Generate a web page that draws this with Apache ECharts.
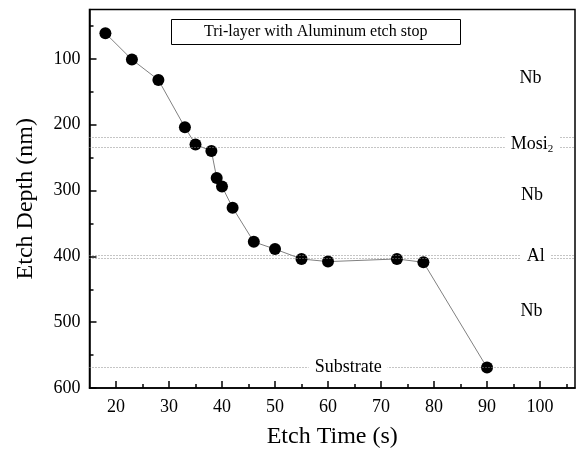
<!DOCTYPE html>
<html>
<head>
<meta charset="utf-8">
<script src="https://cdn.jsdelivr.net/npm/echarts@6/dist/echarts.min.js"></script>
<style>
  html, body { margin: 0; padding: 0; background: #fff; }
  #container { width: 582px; height: 459px; }
</style>
</head>
<body>
<div id="container"></div>
<script>
var times = [18, 23, 28, 33, 35, 38, 39, 40, 42, 46, 50, 55, 60, 73, 78, 90];
var depths = [61, 101, 132, 204, 230, 240, 281, 294, 326, 378, 389, 404, 408, 404, 409, 569];

var xMajor = [20, 30, 40, 50, 60, 70, 80, 90, 100];
var xMinor = [25, 35, 45, 55, 65, 75, 85, 95, 105];
var yMajor = [100, 200, 300, 400, 500, 600];
var yMinor = [50, 150, 250, 350, 450, 550];

// layer boundaries (nm)
var layerLines = [219, 235, 399, 403, 568];
// layer names and where they sit (time, depth)
var layerNames = ['Nb', 'Mosi', 'Nb', 'Al', 'Nb', 'Substrate'];
var layerX = [98.2, 98.5, 98.5, 99.2, 98.4, 63.8];
var layerY = [129, 231, 307, 400, 484, 568];

var FONT = 'Liberation Serif';

var dom = document.getElementById('container');
var myChart = echarts.init(dom);

var pts = [];
for (var i = 0; i < times.length; i++) {
    pts.push([times[i], depths[i]]);
}
var labelPts = [];
for (var j = 0; j < layerNames.length; j++) {
    labelPts.push({ name: layerNames[j], value: [layerX[j], layerY[j]] });
}

var option = {
    animation: false,
    title: {
        text: 'Tri-layer with Aluminum etch stop',
        left: 171,
        top: 19,
        padding: [5, 33, 5, 33],
        borderColor: '#000',
        borderWidth: 1,
        textStyle: { fontFamily: FONT, fontSize: 16, fontWeight: 'normal', color: '#000' }
    },
    grid: {
        left: 89.5, right: 7, top: 9.5, bottom: 71,
        show: true, borderColor: '#000', borderWidth: 1.5
    },
    xAxis: [
        {
            type: 'value', min: 15, max: 106.6,
            name: 'Etch Time (s)', nameLocation: 'middle', nameGap: 37,
            nameTextStyle: { fontFamily: FONT, fontSize: 24, color: '#000' },
            axisLine: { lineStyle: { color: '#000', width: 1.5 } },
            axisTick: { inside: true, length: 7, customValues: xMajor, lineStyle: { width: 1.5 } },
            axisLabel: { customValues: xMajor, margin: 10, fontFamily: FONT, fontSize: 18, color: '#000' },
            splitLine: { show: false }
        },
        {
            type: 'value', min: 15, max: 106.6, position: 'bottom',
            axisLine: { show: false },
            axisTick: { inside: true, length: 4, customValues: xMinor, lineStyle: { color: '#000', width: 1.5 } },
            axisLabel: { show: false },
            splitLine: { show: false }
        }
    ],
    yAxis: [
        {
            type: 'value', inverse: true, min: 25, max: 600,
            name: 'Etch Depth (nm)', nameLocation: 'middle', nameGap: 52,
            nameTextStyle: { fontFamily: FONT, fontSize: 24, color: '#000' },
            axisLine: { lineStyle: { color: '#000', width: 1.5 } },
            axisTick: { inside: true, length: 7, customValues: yMajor, lineStyle: { width: 1.5 } },
            axisLabel: { customValues: yMajor, margin: 9, fontFamily: FONT, fontSize: 18, color: '#000' },
            splitLine: { show: false }
        },
        {
            type: 'value', inverse: true, min: 25, max: 600, position: 'left',
            axisLine: { show: false },
            axisTick: { inside: true, length: 4, customValues: yMinor, lineStyle: { color: '#000', width: 1.5 } },
            axisLabel: { show: false },
            splitLine: { show: false }
        }
    ],
    series: [
        {
            type: 'line',
            data: pts,
            symbol: 'circle',
            symbolSize: 12,
            itemStyle: { color: '#000' },
            lineStyle: { color: '#808080', width: 1 },
            z: 3,
            markLine: {
                silent: true,
                symbol: 'none',
                label: { show: false },
                lineStyle: { color: '#8a8a8a', type: [1, 2], width: 1 },
                data: layerLines.map(function (v) { return { yAxis: v }; })
            }
        },
        {
            type: 'scatter',
            data: labelPts,
            symbolSize: 0,
            silent: true,
            z: 5,
            itemStyle: { opacity: 1 },
            label: {
                show: true,
                position: 'inside',
                backgroundColor: '#fff',
                padding: [0, 6],
                color: '#000',
                fontFamily: FONT,
                fontSize: 18,
                formatter: function (p) {
                    if (p.name === 'Mosi') return '{a|Mosi}{s|2}';
                    return p.name;
                },
                rich: {
                    a: { fontFamily: FONT, fontSize: 18, color: '#000', lineHeight: 20, verticalAlign: 'top' },
                    s: { fontFamily: FONT, fontSize: 11, color: '#000', lineHeight: 12, verticalAlign: 'bottom' }
                }
            }
        }
    ]
};

if (option && typeof option === 'object') {
    myChart.setOption(option, true);
}
</script>
</body>
</html>
